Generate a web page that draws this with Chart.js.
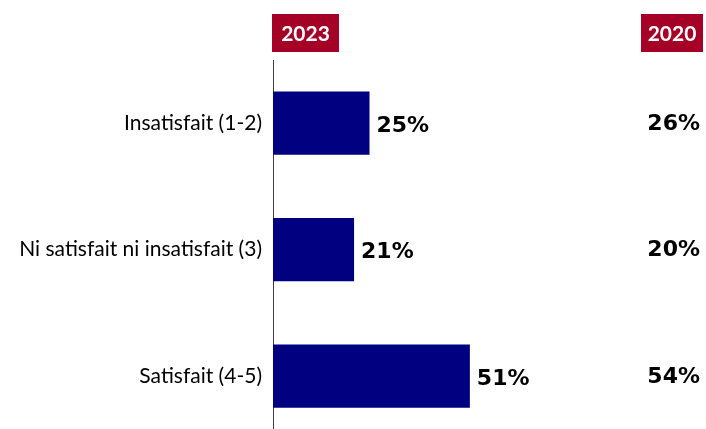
<!DOCTYPE html>
<html>
<head>
<meta charset="utf-8">
<script src="https://cdn.jsdelivr.net/npm/chart.js@4/dist/chart.umd.min.js"></script>
<style>
  html, body { margin: 0; padding: 0; background: #fff; overflow: hidden; }
  canvas { display: block; }
</style>
</head>
<body>
<canvas id="chart" width="706" height="455"></canvas>
<script>
// Données
const categories = ['Insatisfait (1-2)', 'Ni satisfait ni insatisfait (3)', 'Satisfait (4-5)'];
const values2023 = [25, 21, 51];
const values2020 = [26, 20, 54];
const yearLabels = ['2023', '2020'];

const FONT = "Lato, 'Open Sans', sans-serif";
const VALUE_FONT = "'DejaVu Sans', Verdana, sans-serif";

// Étiquettes, en-têtes et colonne 2020
const overlayPlugin = {
    id: 'overlay',
    afterDatasetsDraw(chart) {
        const ctx = chart.ctx;
        const meta = chart.getDatasetMeta(0);
        ctx.save();

        // en-têtes rouges
        ctx.font = 'bold 21px ' + FONT;
        ctx.textAlign = 'center';
        ctx.textBaseline = 'middle';
        const boxes = [[272, 67], [641, 62]];
        boxes.forEach((b, i) => {
            ctx.fillStyle = '#A50026';
            ctx.fillRect(b[0], 14, b[1], 38);
            ctx.fillStyle = '#fff';
            ctx.fillText(yearLabels[i], b[0] + b[1] / 2, 34);
        });

        ctx.font = 'bold 22px ' + VALUE_FONT;
        ctx.fillStyle = '#000';
        meta.data.forEach((bar, i) => {
            ctx.textAlign = 'left';
            ctx.fillText(values2023[i] + '%', bar.x + 7, bar.y + 3);
            ctx.textAlign = 'right';
            ctx.fillText(values2020[i] + '%', 700, bar.y + 1);
        });
        ctx.restore();
    }
};

new Chart(document.getElementById('chart'), {
    type: 'bar',
    data: {
        labels: categories,
        datasets: [{
            data: values2023,
            backgroundColor: '#000080',
            barPercentage: 0.5,
            categoryPercentage: 1
        }]
    },
    options: {
        indexAxis: 'y',
        responsive: false,
        animation: false,
        layout: { padding: { top: 60, right: 47, bottom: 0, left: 0 } },
        plugins: { legend: { display: false }, tooltip: { enabled: false } },
        scales: {
            x: { display: false, min: 0, max: 100 },
            y: {
                afterFit(scale) { scale.width = 273; },
                grid: { display: false },
                border: { display: true, color: '#404040', width: 1 },
                ticks: {
                    padding: 3,
                    color: '#000',
                    font: { family: FONT, size: 21 }
                }
            }
        }
    },
    plugins: [overlayPlugin]
});
</script>
</body>
</html>
